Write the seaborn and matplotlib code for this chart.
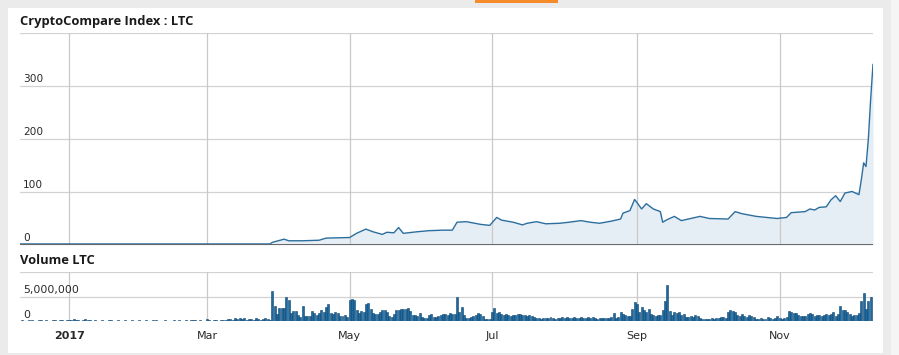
import numpy as np
import pandas as pd
import seaborn as sns
import matplotlib.pyplot as plt
import matplotlib.transforms as mtransforms
from matplotlib.patches import Rectangle

# price (LTC index)
price_dates = ["2016-12-11", "2017-03-28", "2017-03-29", "2017-04-03", "2017-04-05", "2017-04-11",
               "2017-04-18", "2017-04-21", "2017-04-30", "2017-05-01", "2017-05-04", "2017-05-08",
               "2017-05-11", "2017-05-15", "2017-05-17", "2017-05-20", "2017-05-22", "2017-05-24",
               "2017-05-30", "2017-06-04", "2017-06-10", "2017-06-14", "2017-06-16", "2017-06-20",
               "2017-06-26", "2017-06-30", "2017-07-03", "2017-07-05", "2017-07-10", "2017-07-14",
               "2017-07-16", "2017-07-20", "2017-07-24", "2017-07-30", "2017-08-03", "2017-08-08",
               "2017-08-12", "2017-08-16", "2017-08-21", "2017-08-25", "2017-08-26", "2017-08-29",
               "2017-08-31", "2017-09-01", "2017-09-03", "2017-09-05", "2017-09-08", "2017-09-11",
               "2017-09-12", "2017-09-14", "2017-09-17", "2017-09-20", "2017-09-23", "2017-09-28",
               "2017-10-02", "2017-10-10", "2017-10-13", "2017-10-16", "2017-10-22", "2017-10-31",
               "2017-11-04", "2017-11-06", "2017-11-12", "2017-11-14", "2017-11-16", "2017-11-18",
               "2017-11-21", "2017-11-23", "2017-11-25", "2017-11-27", "2017-11-29", "2017-12-02",
               "2017-12-05", "2017-12-06", "2017-12-07", "2017-12-08", "2017-12-09", "2017-12-10",
               "2017-12-11"]
price_values = [2, 2, 5, 11, 8, 8,
                9, 13, 14, 14, 22, 30,
                25, 20, 24, 23, 33, 22,
                25, 27, 28, 28, 43, 44,
                39, 37, 52, 47, 43, 38,
                41, 44, 40, 41, 43, 46,
                43, 41, 45, 49, 60, 65,
                86, 80, 68, 78, 68, 63,
                43, 48, 54, 46, 49, 54,
                50, 49, 63, 59, 54, 50,
                52, 61, 63, 68, 66, 71,
                72, 85, 93, 82, 98, 101,
                95, 123, 155, 148, 199, 275,
                341]

# daily volume in millions, 2016-12-11 .. 2017-12-10
vol_dec16 = [0.1, 0.2, 0.1, 0.1, 0.3, 0.2, 0.1, 0.1, 0.2, 0.3, 0.1, 0.2, 0.1, 0.1, 0.2, 0.3, 0.1, 0.2,
             0.2, 0.1, 0.3]
vol_jan = [0.2, 0.3, 0.4, 0.2, 0.3, 0.1, 0.2, 0.5, 0.3, 0.2, 0.1, 0.2, 0.1, 0.1, 0.2, 0.1, 0.1, 0.3,
           0.2, 0.1, 0.1, 0.2, 0.1, 0.1, 0.2, 0.1, 0.1, 0.2, 0.1, 0.1, 0.2]
vol_feb = [0.1, 0.1, 0.2, 0.1, 0.1, 0.3, 0.2, 0.1, 0.1, 0.1, 0.2, 0.1, 0.1, 0.1, 0.2, 0.1, 0.2, 0.1,
           0.1, 0.2, 0.1, 0.2, 0.3, 0.2, 0.1, 0.2, 0.1, 0.1]
vol_mar = [0.5, 0.2, 0.1, 0.2, 0.3, 0.1, 0.2, 0.3, 0.2, 0.4, 0.5, 0.3, 0.6, 0.4, 0.7, 0.5, 0.6, 0.3,
           0.4, 0.5, 0.3, 0.6, 0.4, 0.3, 0.5, 0.6, 0.4, 0.3, 6.1, 3.0, 1.5]
vol_apr = [2.6, 2.6, 2.6, 4.8, 4.3, 1.6, 2.0, 2.1, 1.3, 0.9, 3.0, 1.0, 1.1, 1.0, 2.0, 1.6, 1.3, 1.7,
           2.3, 1.8, 2.8, 3.4, 1.6, 1.5, 1.8, 1.6, 1.0, 1.0, 1.2, 0.9]
vol_may = [4.3, 4.5, 4.2, 2.2, 1.6, 2.0, 1.8, 3.4, 3.6, 2.4, 1.7, 1.5, 1.5, 1.8, 2.2, 2.3, 1.8, 1.1,
           0.9, 1.5, 2.2, 2.2, 2.4, 2.4, 2.5, 2.7, 2.1, 1.3, 1.3, 1.0, 1.6]
vol_jun = [0.8, 0.7, 0.7, 1.2, 1.4, 0.8, 0.8, 1.0, 1.3, 1.5, 1.5, 1.3, 1.6, 1.5, 1.4, 5.0, 1.9, 2.8,
           1.2, 0.7, 0.7, 0.8, 1.0, 1.2, 1.7, 1.4, 1.1, 0.5, 0.5, 0.5]
vol_jul = [1.9, 2.6, 1.7, 1.9, 1.5, 1.2, 1.4, 1.3, 1.0, 1.2, 1.2, 1.4, 1.5, 1.3, 1.2, 1.0, 1.3, 1.0,
           0.9, 0.6, 0.7, 0.5, 0.6, 0.6, 0.7, 0.9, 0.6, 0.5, 0.7, 0.6, 0.8]
vol_aug = [0.6, 0.8, 0.6, 0.7, 0.9, 0.6, 0.6, 0.8, 0.7, 0.6, 0.9, 0.7, 0.8, 0.6, 0.5, 0.7, 0.6, 0.6,
           0.7, 0.6, 0.8, 1.6, 0.7, 0.9, 1.9, 1.5, 1.2, 1.0, 1.1, 2.5, 3.9]
vol_sep = [3.5, 1.9, 2.9, 2.2, 1.8, 2.4, 1.5, 1.3, 1.0, 1.2, 1.3, 2.3, 4.0, 7.3, 2.0, 1.2, 1.9, 1.6,
           1.9, 1.2, 1.4, 0.8, 0.9, 1.0, 0.8, 1.2, 1.1, 0.6, 0.5, 0.5]
vol_oct = [0.5, 0.5, 0.6, 0.5, 0.6, 0.7, 0.8, 0.9, 0.6, 1.8, 2.2, 2.0, 1.9, 1.3, 1.0, 1.5, 1.1, 0.9,
           1.2, 1.0, 0.9, 0.5, 0.5, 0.6, 0.5, 0.5, 0.8, 0.7, 0.5, 0.6, 1.0]
vol_nov = [0.6, 0.5, 0.7, 0.8, 2.1, 1.8, 1.7, 1.7, 1.3, 1.0, 1.0, 1.0, 1.4, 1.6, 1.5, 1.0, 1.2, 1.2,
           1.0, 1.3, 1.5, 1.2, 1.4, 1.9, 1.0, 1.5, 3.0, 2.2, 2.3, 1.8]
vol_dec17 = [1.5, 1.0, 1.2, 1.3, 1.6, 4.0, 5.7, 2.5, 4.1, 4.9]

month_ticks = ["2017-01-01", "2017-03-01", "2017-05-01", "2017-07-01", "2017-09-01", "2017-11-01"]
month_labels = ["2017", "Mar", "May", "Jul", "Sep", "Nov"]
price_ticks = [0, 100, 200, 300]
price_grid = [100, 200, 300, 400]
vol_ticks = [0, 5000000]
vol_grid = [5000000, 10000000]

price_df = pd.DataFrame({"date": pd.to_datetime(price_dates), "price": price_values})
vol_m = vol_dec16 + vol_jan + vol_feb + vol_mar + vol_apr + vol_may + vol_jun + vol_jul + \
    vol_aug + vol_sep + vol_oct + vol_nov + vol_dec17
vol_df = pd.DataFrame({"date": pd.date_range("2016-12-11", periods=len(vol_m), freq="D"),
                       "volume": np.array(vol_m) * 1e6})

sns.set_theme(style="white")
plt.rcParams["font.family"] = ["DejaVu Sans"]

W, H = 899, 355
fig = plt.figure(figsize=(W / 100, H / 100), dpi=100)
fig.patch.set_facecolor("#ebebeb")
# white card, lighter right strip and orange tab
fig.add_artist(Rectangle((891 / W, 0), 8 / W, 1, transform=fig.transFigure,
                         facecolor="#f5f5f5", edgecolor="none", zorder=0))
fig.add_artist(Rectangle((8 / W, 1 - 353 / H), 875 / W, 345 / H, transform=fig.transFigure,
                         facecolor="white", edgecolor="none", zorder=0))
fig.add_artist(Rectangle((475 / W, 1 - 3 / H), 83 / W, 3 / H, transform=fig.transFigure,
                         facecolor="#f58b2a", edgecolor="none", zorder=0))

x0, x1 = pd.Timestamp("2016-12-11"), pd.Timestamp("2017-12-11")
left, width = 20 / W, 853 / W
ax = fig.add_axes([left, 1 - 245 / H, width, 212 / H])
axv = fig.add_axes([left, 1 - 321 / H, width, 49 / H])

line_c = "#2b6e9e"
grid_c = "#d2d2d2"
text_c = "#2a2a2a"

# price panel
ax.fill_between(price_df["date"], price_df["price"], color="#e5edf5", lw=0, zorder=1)
sns.lineplot(data=price_df, x="date", y="price", ax=ax, color=line_c, lw=1.0, zorder=3)
ax.set_xlim(x0, x1)
ax.set_ylim(0, 400)
for g in price_grid:
    ax.axhline(g, color=grid_c, lw=0.9, zorder=0)
for m in month_ticks:
    ax.axvline(pd.Timestamp(m), color="#c9c9c9", lw=0.9, zorder=2)
ax.axhline(0, color="#666666", lw=1.4, zorder=4)
tr = mtransforms.blended_transform_factory(ax.transAxes, ax.transData)
for t in price_ticks:
    ax.text(3 / 853, t + 3, str(t), transform=tr, fontsize=7.6, color=text_c,
            ha="left", va="bottom", zorder=5)

# volume panel
axv.bar(vol_df["date"], vol_df["volume"], width=0.85, color="#1c6aa0",
        edgecolor="#0f4470", linewidth=0.4, zorder=3)
axv.set_xlim(x0, x1)
axv.set_ylim(0, 10000000)
for g in vol_grid:
    axv.axhline(g, color=grid_c, lw=0.9, zorder=0)
for m in month_ticks:
    axv.axvline(pd.Timestamp(m), color="#c9c9c9", lw=0.9, zorder=2)
axv.axhline(0, color="#bdbdbd", lw=0.8, zorder=2)
trv = mtransforms.blended_transform_factory(axv.transAxes, axv.transData)
for t in vol_ticks:
    axv.text(3 / 853, t + 250000, f"{t:,}", transform=trv, fontsize=7.8, color=text_c,
             ha="left", va="bottom", zorder=5)

for a in (ax, axv):
    a.set_xlabel("")
    a.set_ylabel("")
    a.set_yticks([])
    a.set_xticks([])
    for s in a.spines.values():
        s.set_visible(False)
    a.set_facecolor("none")

# month labels under volume chart
for m, lab in zip(month_ticks, month_labels):
    axv.text(pd.Timestamp(m), -0.31, lab, transform=mtransforms.blended_transform_factory(
        axv.transData, axv.transAxes), ha="center", va="center", fontsize=8,
        color=text_c, fontweight="bold" if lab == "2017" else "normal")

fig.text(20 / W, 1 - 21 / H, "CryptoCompare Index : LTC", family=["Open Sans", "DejaVu Sans"],
         fontweight="bold", fontsize=9.3, color="#1a1a1a", ha="left", va="center")
fig.text(20 / W, 1 - 260 / H, "Volume LTC", family=["Open Sans", "DejaVu Sans"],
         fontweight="bold", fontsize=9.3, color="#1a1a1a", ha="left", va="center")

fig.savefig("out.png", dpi=100, facecolor=fig.get_facecolor())
